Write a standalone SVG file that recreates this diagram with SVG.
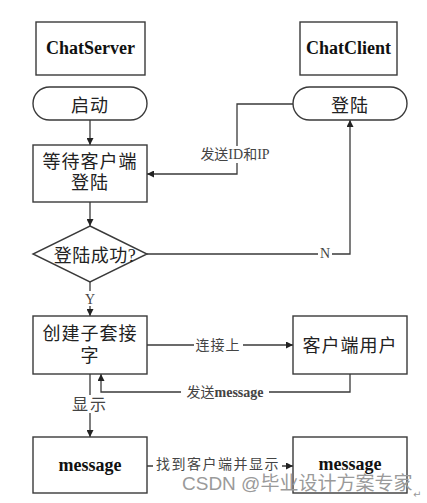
<svg xmlns="http://www.w3.org/2000/svg" width="427" height="503" viewBox="0 0 427 503">
<defs>
<style>
.box{fill:#fff;stroke:#3a3a3a;stroke-width:1.4}
.ln{fill:none;stroke:#3a3a3a;stroke-width:1.3}
.cjk{font-family:"Liberation Serif","Noto Sans CJK SC",serif;font-size:18px;fill:#222;text-anchor:middle;letter-spacing:1px}
.ttl{font-family:"Liberation Serif","Noto Sans CJK SC",serif;font-size:18px;font-weight:bold;fill:#111;text-anchor:middle}
.lbl{font-family:"Liberation Serif","Noto Sans CJK SC",serif;font-size:14px;fill:#444;text-anchor:middle}
.bg{fill:#fff}
.wm{font-family:"Liberation Sans","Noto Sans CJK SC",sans-serif;font-size:19px;fill:#9a9a9a}
</style>
<marker id="ah" viewBox="0 0 10 10" refX="10" refY="5" markerWidth="7" markerHeight="7" markerUnits="userSpaceOnUse" orient="auto">
<path d="M0,0 L10,5 L0,10 z" fill="#222"/>
</marker>
</defs>
<rect width="427" height="503" fill="#fff"/>

<g id="connectors">
<path class="ln" d="M90,120 V145" marker-end="url(#ah)"/>
<path class="ln" d="M293,104 H237 V174 H147" marker-end="url(#ah)"/>
<path class="ln" d="M90,202 V226" marker-end="url(#ah)"/>
<path class="ln" d="M147,254 H350 V120" marker-end="url(#ah)"/>
<path class="ln" d="M90,282 V316" marker-end="url(#ah)"/>
<path class="ln" d="M147,345 H293" marker-end="url(#ah)"/>
<path class="ln" d="M350,374 V392 H101 V374" marker-end="url(#ah)"/>
<path class="ln" d="M90,374 V437" marker-end="url(#ah)"/>
<path class="ln" d="M147,466 H293" marker-end="url(#ah)"/>
<rect class="bg" x="197" y="146" width="77" height="17"/>
<text class="lbl" x="235" y="159">发送ID和IP</text>
<rect class="bg" x="318" y="247" width="14" height="14"/>
<text class="lbl" x="325" y="258">N</text>
<rect class="bg" x="83" y="291" width="14" height="15"/>
<text class="lbl" x="90" y="304">Y</text>
<rect class="bg" x="194" y="337" width="49" height="16"/>
<text class="lbl" x="218" y="350" style="letter-spacing:1px">连接上</text>
<rect class="bg" x="181" y="384" width="88" height="16"/>
<text class="lbl" x="225" y="397">发送<tspan font-weight="bold">message</tspan></text>
<rect class="bg" x="70" y="395" width="40" height="18"/>
<text class="lbl" x="90" y="409.5" style="font-size:16px;letter-spacing:2px">显示</text>
<rect class="bg" x="153" y="457" width="129" height="16"/>
<text class="lbl" x="218" y="469" style="letter-spacing:1.5px">找到客户端并显示</text>
</g>

<g id="chatserver"><rect class="box" x="36" y="22" width="109" height="53"/><text class="ttl" x="90.5" y="54">ChatServer</text></g>
<g id="chatclient"><rect class="box" x="300" y="22" width="97" height="53"/><text class="ttl" x="348.5" y="54">ChatClient</text></g>
<g id="start"><rect class="box" x="33" y="87" width="114" height="33" rx="16.5"/><text class="cjk" x="90" y="112">启动</text></g>
<g id="login"><rect class="box" x="293" y="87" width="114" height="33" rx="16.5"/><text class="cjk" x="350" y="112">登陆</text></g>
<g id="wait"><rect class="box" x="33" y="145" width="114" height="57"/><text class="cjk" x="90" y="168">等待客户端</text><text class="cjk" x="90" y="189">登陆</text></g>
<g id="decision"><path class="box" d="M90,226 L147,254 L90,282 L33,254 Z"/><text class="cjk" x="95" y="262" style="letter-spacing:0.5px">登陆成功?</text></g>
<g id="socket"><rect class="box" x="33" y="316" width="114" height="58"/><text class="cjk" x="90" y="340">创建子套接</text><text class="cjk" x="90" y="362">字</text></g>
<g id="clientuser"><rect class="box" x="293" y="316" width="114" height="58"/><text class="cjk" x="350" y="352">客户端用户</text></g>
<g id="msg1"><rect class="box" x="33" y="437" width="114" height="56"/><text class="ttl" x="90" y="471">message</text></g>
<g id="msg2"><rect class="box" x="293" y="437" width="114" height="56"/><text class="ttl" x="350" y="470">message</text></g>

<text class="wm" x="182" y="490">CSDN @毕业设计方案专家</text>
<text x="413" y="498" style="font-family:'DejaVu Sans',sans-serif;font-size:10px;fill:#999">↵</text>
</svg>
